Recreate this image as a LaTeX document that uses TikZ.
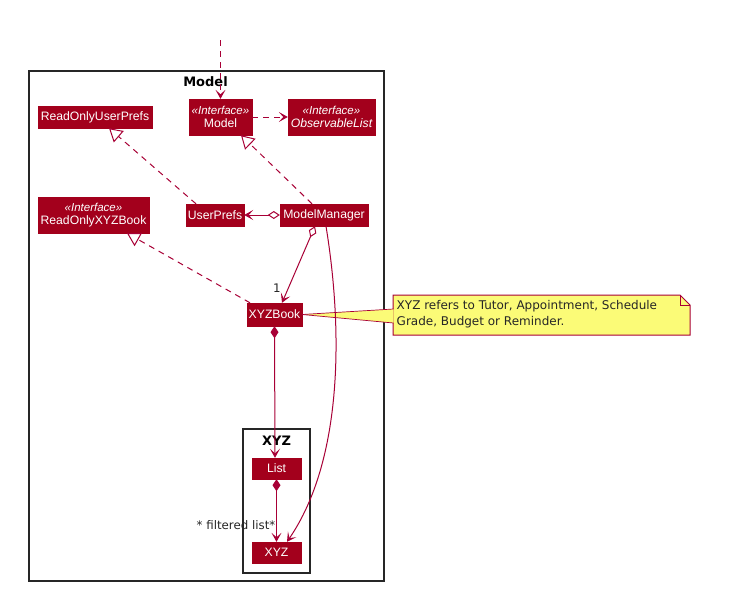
\documentclass[tikz,border=0pt]{standalone}
\usepackage{fontspec}
\setmainfont{Liberation Sans}
\newfontfamily\lucida{DejaVu Sans}
\usetikzlibrary{arrows.meta}
\definecolor{umlred}{HTML}{A80036}
\definecolor{clsred}{HTML}{A3001C}
\definecolor{notey}{HTML}{FBFB77}
\tikzset{
  cls/.style={draw=clsred, fill=clsred, text=white, inner sep=0pt, align=center, font=\fontsize{12.2}{13.5}\selectfont},
  pkg/.style={draw=black!85, line width=1.3pt},
  ptitle/.style={font=\lucida\bfseries\fontsize{13}{14}\selectfont},
  link/.style={draw=umlred, line width=1pt},
  dashedlink/.style={link, dash pattern=on 6pt off 5pt},
  dep/.style={dashedlink, -{Stealth[length=9pt,width=10pt,inset=4.5pt]}},
  real/.style={dashedlink, -{Triangle[open,length=13pt,width=15pt,fill=white]}},
  assoc/.style={link, -{Stealth[length=9pt,width=10pt,inset=4.5pt]}},
  agg/.style={link, {Diamond[open,length=12pt,width=8pt,fill=white]}-{Stealth[length=9pt,width=10pt,inset=4.5pt]}},
  comp/.style={link, {Diamond[length=12pt,width=8pt]}-{Stealth[length=9pt,width=10pt,inset=4.5pt]}},
  lbl/.style={font=\lucida\fontsize{11.8}{13}\selectfont, text=black!85, inner sep=0pt},
}
\newcommand{\stereo}{{\itshape\fontsize{11.5}{12}\selectfont «Interface»}}
\begin{document}
\begin{tikzpicture}[x=1pt,y=-1pt]
\useasboundingbox (0,0) rectangle (750,592);
\fill[white] (0,0) rectangle (750,592);

% packages
\draw[pkg] (29,71) rectangle (384,581);
\node[ptitle] (modeltitle) at (205.5,82) {Model};
\draw[pkg] (243,429) rectangle (310,573);
\node[ptitle] (xyztitle) at (276.5,441) {XYZ};

% classes
\node[cls, minimum width=114pt, minimum height=22pt] (rouserprefs) at (95,117) {ReadOnlyUserPrefs};
\node[cls, minimum width=63pt, minimum height=36pt] (model) at (220.5,117) {\stereo\\Model};
\node[cls, minimum width=87pt, minimum height=36pt] (obslist) at (331.5,117) {\stereo\\\itshape ObservableList};
\node[cls, minimum width=111pt, minimum height=36pt] (roxyzbook) at (93.5,215) {\stereo\\ReadOnlyXYZBook};
\node[cls, minimum width=58pt, minimum height=22pt] (userprefs) at (215,215) {UserPrefs};
\node[cls, minimum width=88pt, minimum height=22pt] (manager) at (324,215) {ModelManager};
\node[cls, minimum width=55pt, minimum height=23pt] (xyzbook) at (274.5,314.5) {XYZBook};
\node[cls, minimum width=49pt, minimum height=21pt] (list) at (276.5,468.5) {List};
\node[cls, minimum width=49pt, minimum height=21pt] (xyz) at (276.5,552.5) {XYZ};

% note
\draw[umlred, line width=1pt, fill=notey] (393,295) -- (680,295) -- (690,305) -- (690,335) -- (393,335) -- cycle;
\draw[umlred, line width=1pt] (680,295) -- (680,305) -- (690,305);
\node[lbl, anchor=north west, align=left, font=\lucida\fontsize{12}{16}\selectfont] (note) at (396.5,300) {XYZ refers to Tutor, Appointment, Schedule\\Grade, Budget or Reminder.};
\coordinate (wedgea) at (393.5,309);
\coordinate (wedgeb) at (393.5,323);
\fill[notey] (xyzbook.east) -- (wedgea) -- (wedgeb) -- cycle;
\draw[umlred, line width=0.7pt] (xyzbook.east) -- (wedgea);
\draw[umlred, line width=0.7pt] (xyzbook.east) -- (wedgeb);

% edges
\coordinate (topin) at (220.5,40);
\draw[dep] (topin) -- (model.north);
\draw[dep] (model.east) -- (obslist.west);
\draw[real] ([xshift=-19pt]userprefs.north) -- ([xshift=14pt]rouserprefs.south);
\draw[real] ([xshift=-12pt]manager.north) -- ([xshift=20.5pt]model.south);
\draw[real] ([xshift=-24.5pt]xyzbook.north) -- ([xshift=33.5pt]roxyzbook.south);
\draw[agg] (manager.west) -- (userprefs.east);
\draw[agg] ([xshift=-9pt]manager.south) -- ([xshift=7.5pt]xyzbook.north);
\node[lbl] (one) at (277,288) {1};
\draw[comp] (xyzbook.south) -- ([xshift=-1.5pt]list.north);
\draw[comp] (list.south) -- (xyz.north);
\node[lbl] (fl) at (236,525) {* filtered list*};
\draw[assoc] ([xshift=2pt]manager.south) .. controls (343,330) and (343,460) .. ([xshift=10.5pt]xyz.north);
\end{tikzpicture}
\end{document}
